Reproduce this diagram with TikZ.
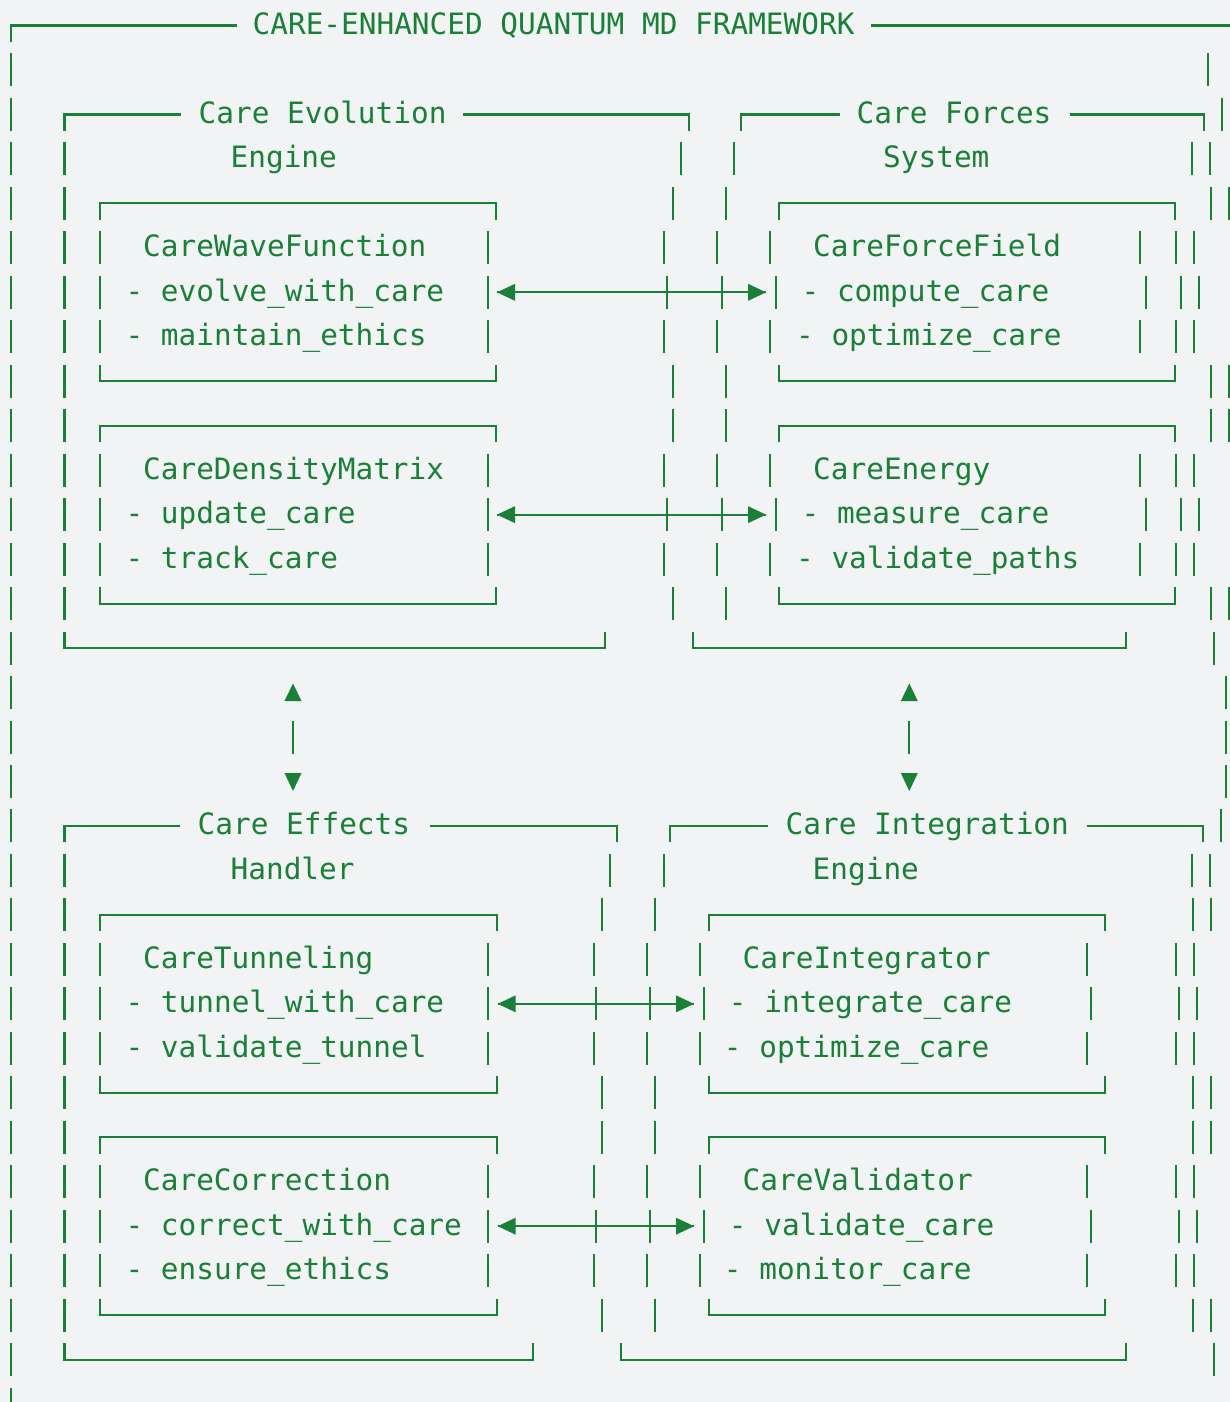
\documentclass[tikz,border=0pt]{standalone}
\usepackage{fontspec}
\newfontfamily\monofnt{DejaVu Sans Mono}
\definecolor{fg}{HTML}{1A7F37}
\definecolor{bg}{HTML}{F1F3F4}
\newcommand\ry[1]{(24+44.47*(#1))}
\tikzset{
  ln/.style={draw=fg, line width=2.2pt},
  txt/.style={text=fg, font=\monofnt\fontsize{29.4}{30}\selectfont, anchor=base west, inner sep=0pt},
  tip/.style={fill=fg}
}
\newcommand\mybar[2]{\draw[ln] (#1,{\ry{#2}-15}) -- (#1,{\ry{#2}+18});}
\newcommand\mytop[3]{\draw[ln] (#1,{\ry{#3}+18}) -- (#1,{\ry{#3}+1.5}) -- (#2,{\ry{#3}+1.5}) -- (#2,{\ry{#3}+18});}
\newcommand\mybot[3]{\draw[ln] (#1,{\ry{#3}-15}) -- (#1,{\ry{#3}+1.5}) -- (#2,{\ry{#3}+1.5}) -- (#2,{\ry{#3}-15});}
\newcommand\mylink[2]{%
  \draw[ln] (#1) -- (#2);
  \fill[tip] (#1) -- ++(18,-8.5) -- ++(0,17) -- cycle;
  \fill[tip] (#2) -- ++(-18,-8.5) -- ++(0,17) -- cycle;}
\begin{document}
\begin{tikzpicture}[x=1pt,y=-1pt]
\fill[bg] (0,0) rectangle (1230,1402);
\useasboundingbox (0,0) rectangle (1230,1402);

% ---------- title row ----------
\node[txt] (title) at (252.5,{\ry{0}+10.5}) {CARE-ENHANCED QUANTUM MD FRAMEWORK};
\draw[ln] (11,{\ry{0}+18}) |- (236.5,{\ry{0}+1.5});
\draw[ln] (871,{\ry{0}+1.5}) -- (1232,{\ry{0}+1.5});

% ---------- group headers (top) ----------
\draw[ln] (64.5,{\ry{2}+18}) |- (181,{\ry{2}+1.5});
\node[txt] (g1a) at (198.5,{\ry{2}+10.5}) {Care Evolution};
\draw[ln] (463.4,{\ry{2}+1.5}) -| (688.7,{\ry{2}+18});
\node[txt] (g1b) at (230.5,{\ry{3}+10.5}) {Engine};
\draw[ln] (741.3,{\ry{2}+18}) |- (840,{\ry{2}+1.5});
\node[txt] (g2a) at (856.5,{\ry{2}+10.5}) {Care Forces};
\draw[ln] (1070,{\ry{2}+1.5}) -| (1204,{\ry{2}+18});
\node[txt] (g2b) at (883,{\ry{3}+10.5}) {System};

% ---------- group headers (bottom) ----------
\draw[ln] (64.5,{\ry{18}+18}) |- (180,{\ry{18}+1.5});
\node[txt] (g3a) at (197.5,{\ry{18}+10.5}) {Care Effects};
\draw[ln] (430,{\ry{18}+1.5}) -| (617.3,{\ry{18}+18});
\node[txt] (g3b) at (230.5,{\ry{19}+10.5}) {Handler};
\draw[ln] (670,{\ry{18}+18}) |- (768,{\ry{18}+1.5});
\node[txt] (g4a) at (785.5,{\ry{18}+10.5}) {Care Integration};
\draw[ln] (1086.5,{\ry{18}+1.5}) -| (1203.3,{\ry{18}+18});
\node[txt] (g4b) at (812.5,{\ry{19}+10.5}) {Engine};

% ---------- vertical bars ----------
\mybar{11}{1}\mybar{1208}{1}
\mybar{11}{2}\mybar{1222.3}{2}
\foreach \x in {11,64.5,680.7,734,1191.7,1209.7}{\mybar{\x}{3}}
\foreach \r in {4,8,9,13}{\foreach \x in {11,64.5,672.7,726,1210.7,1228.7}{\mybar{\x}{\r}}}
\foreach \r in {5,7,10,12}{\foreach \x in {11,64.5,100,488.3,664,717.3,770.3,1140.3,1175.7,1193.7}{\mybar{\x}{\r}}}
\foreach \r in {6,11}{\foreach \x in {11,64.5,100,488.3,667.3,721.7,776,1145.7,1181,1199}{\mybar{\x}{\r}}}
\mybar{11}{14}\mybar{1213.7}{14}
\foreach \r in {15,16,17}{\mybar{11}{\r}\mybar{1226}{\r}}
\mybar{11}{18}\mybar{1221.3}{18}
\foreach \x in {11,64.5,610.3,663.7,1191.7,1209.7}{\mybar{\x}{19}}
\foreach \r in {20,24,25,29}{\foreach \x in {11,64.5,602.3,655.3,1193,1211}{\mybar{\x}{\r}}}
\foreach \r in {21,23,26,28}{\foreach \x in {11,64.5,100,487.7,593.7,646.7,700,1087.3,1175.7,1193.7}{\mybar{\x}{\r}}}
\foreach \r in {22,27}{\foreach \x in {11,64.5,100,487.7,595.7,649.7,703.7,1091,1179,1197}{\mybar{\x}{\r}}}
\mybar{11}{30}\mybar{1213.7}{30}
\mybar{11}{31}

% ---------- box tops / bottoms ----------
\foreach \r in {4,9}{\mytop{100}{496.2}{\r}\mytop{779}{1175.3}{\r}}
\foreach \r in {8,13}{\mybot{100}{496.2}{\r}\mybot{779}{1175.3}{\r}}
\mybot{64.5}{605}{14}\mybot{692.7}{1125.7}{14}
\foreach \r in {20,25}{\mytop{100}{496.7}{\r}\mytop{708.7}{1104.7}{\r}}
\foreach \r in {24,29}{\mybot{100}{496.7}{\r}\mybot{708.7}{1104.7}{\r}}
\mybot{64.5}{532.7}{30}\mybot{620.7}{1125.7}{30}

% ---------- box texts ----------
\node[txt] (wf)  at (143,{\ry{5}+10.5}) {CareWaveFunction};
\node[txt] (wf1) at (125.4,{\ry{6}+10.5}) {- evolve\_with\_care};
\node[txt] (wf2) at (125.4,{\ry{7}+10.5}) {- maintain\_ethics};
\node[txt] (dm)  at (143,{\ry{10}+10.5}) {CareDensityMatrix};
\node[txt] (dm1) at (125.4,{\ry{11}+10.5}) {- update\_care};
\node[txt] (dm2) at (125.4,{\ry{12}+10.5}) {- track\_care};

\node[txt] (ff)  at (813,{\ry{5}+10.5}) {CareForceField};
\node[txt] (ff1) at (801.4,{\ry{6}+10.5}) {- compute\_care};
\node[txt] (ff2) at (795.9,{\ry{7}+10.5}) {- optimize\_care};
\node[txt] (en)  at (813,{\ry{10}+10.5}) {CareEnergy};
\node[txt] (en1) at (801.4,{\ry{11}+10.5}) {- measure\_care};
\node[txt] (en2) at (795.9,{\ry{12}+10.5}) {- validate\_paths};

\node[txt] (tu)  at (143,{\ry{21}+10.5}) {CareTunneling};
\node[txt] (tu1) at (125.4,{\ry{22}+10.5}) {- tunnel\_with\_care};
\node[txt] (tu2) at (125.4,{\ry{23}+10.5}) {- validate\_tunnel};
\node[txt] (co)  at (143,{\ry{26}+10.5}) {CareCorrection};
\node[txt] (co1) at (125.4,{\ry{27}+10.5}) {- correct\_with\_care};
\node[txt] (co2) at (125.4,{\ry{28}+10.5}) {- ensure\_ethics};

\node[txt] (in)  at (742.5,{\ry{21}+10.5}) {CareIntegrator};
\node[txt] (in1) at (728.7,{\ry{22}+10.5}) {- integrate\_care};
\node[txt] (in2) at (723.7,{\ry{23}+10.5}) {- optimize\_care};
\node[txt] (va)  at (742.5,{\ry{26}+10.5}) {CareValidator};
\node[txt] (va1) at (728.7,{\ry{27}+10.5}) {- validate\_care};
\node[txt] (va2) at (723.7,{\ry{28}+10.5}) {- monitor\_care};

% ---------- horizontal connectors ----------
\coordinate (a1l) at (497,{\ry{6}+1.5});   \coordinate (a1r) at (766,{\ry{6}+1.5});
\coordinate (a2l) at (497,{\ry{11}+1.5});  \coordinate (a2r) at (766,{\ry{11}+1.5});
\coordinate (a3l) at (497.7,{\ry{22}+1.5}); \coordinate (a3r) at (694,{\ry{22}+1.5});
\coordinate (a4l) at (497.7,{\ry{27}+1.5}); \coordinate (a4r) at (694,{\ry{27}+1.5});
\mylink{a1l}{a1r}
\mylink{a2l}{a2r}
\mylink{a3l}{a3r}
\mylink{a4l}{a4r}

% ---------- vertical connectors (glyph style) ----------
\foreach \x in {293,909.3}{
  \fill[tip] (\x-8.5,701) -- (\x+8.5,701) -- (\x,683.5) -- cycle;
  \mybar{\x}{16}
  \fill[tip] (\x-8.5,773) -- (\x+8.5,773) -- (\x,791) -- cycle;
}
\end{tikzpicture}
\end{document}
